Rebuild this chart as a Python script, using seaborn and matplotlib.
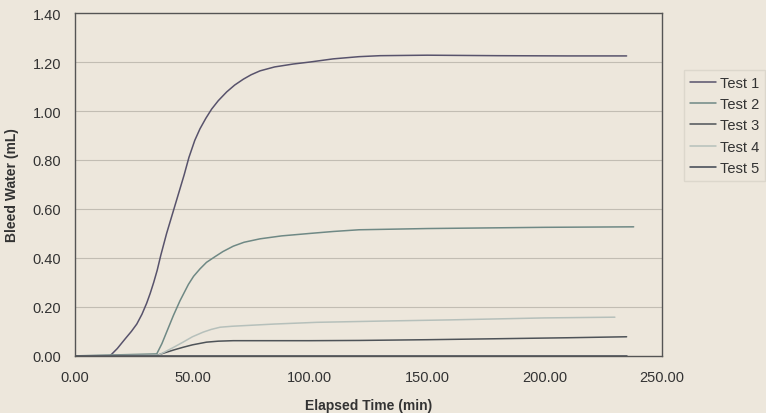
import pandas as pd
import matplotlib.pyplot as plt
import seaborn as sns

# 读图估计的数据 (时间 min, 泌水量 mL)
t1 = [0, 14.9, 18, 21.3, 24, 26.3, 28.5, 30.5, 32, 33.5, 35, 36.5, 39, 41.5, 44, 46.5, 48.5, 51, 53.2, 55.7, 58.2,
      61, 64.6, 68, 71.7, 75, 78.8, 85, 93, 100, 110, 121, 130, 150, 180, 210, 235]
v1 = [0, 0, 0.03, 0.069, 0.1, 0.13, 0.17, 0.215, 0.255, 0.3, 0.35, 0.41, 0.5, 0.58, 0.66, 0.74, 0.81, 0.88, 0.927,
      0.97, 1.008, 1.042, 1.078, 1.106, 1.13, 1.148, 1.164, 1.18, 1.192, 1.2, 1.213, 1.222, 1.226, 1.228, 1.226,
      1.225, 1.225]

t2 = [0, 34.8, 37, 39, 41.9, 44.7, 48.3, 50.5, 53.2, 56, 59.6, 63, 67.4, 72, 78.8, 88, 100, 110, 121, 150, 200, 238]
v2 = [0, 0.008, 0.05, 0.097, 0.165, 0.225, 0.292, 0.325, 0.355, 0.382, 0.405, 0.426, 0.448, 0.464, 0.478, 0.49, 0.5,
      0.508, 0.515, 0.52, 0.525, 0.527]

t3 = [0, 34.8, 38, 42, 46, 50, 56, 61, 67.4, 78.8, 100, 121, 150, 180, 210, 235]
v3 = [0, 0.002, 0.012, 0.024, 0.035, 0.045, 0.056, 0.06, 0.062, 0.062, 0.062, 0.063, 0.066, 0.07, 0.074, 0.078]

t4 = [0, 35.5, 38, 42, 46, 50, 54.6, 58, 61.8, 67, 73, 85, 103, 130, 160, 200, 230]
v4 = [0, 0.003, 0.015, 0.035, 0.056, 0.078, 0.097, 0.108, 0.117, 0.121, 0.124, 0.13, 0.137, 0.142, 0.147, 0.155, 0.158]

t5 = [0, 235]
v5 = [0, 0]

tests = ['Test 1', 'Test 2', 'Test 3', 'Test 4', 'Test 5']
colors = ['#58536c', '#6f8985', '#4e5358', '#b6c0bb', '#3e4550']

frames = []
for name, t, v in zip(tests, [t1, t2, t3, t4, t5], [v1, v2, v3, v4, v5]):
    frames.append(pd.DataFrame({'time': t, 'bleed': v, 'test': name}))
df = pd.concat(frames, ignore_index=True)

bg = '#ede7dc'
sns.set_style('white')
plt.rcParams['font.family'] = ['Liberation Sans', 'DejaVu Sans']

fig = plt.figure(figsize=(7.66, 4.14), dpi=100, facecolor=bg)
ax = fig.add_axes([0.098, 0.138, 0.766, 0.828])
ax.set_facecolor(bg)

# 网格线 (扫描件里很淡)
for y in [0.2, 0.4, 0.6, 0.8, 1.0, 1.2]:
    ax.axhline(y, color='#c2bdb3', lw=0.8, zorder=0)

sns.lineplot(data=df, x='time', y='bleed', hue='test', palette=colors,
             estimator=None, sort=False, lw=1.1, ax=ax)

ax.set_xlim(0, 250)
ax.set_ylim(0, 1.4)
ax.set_xticks([0, 50, 100, 150, 200, 250])
ax.set_yticks([0, 0.2, 0.4, 0.6, 0.8, 1.0, 1.2, 1.4])
ax.xaxis.set_major_formatter(plt.FormatStrFormatter('%.2f'))
ax.yaxis.set_major_formatter(plt.FormatStrFormatter('%.2f'))
ax.tick_params(axis='both', direction='out', length=4, width=0.8,
               color='#555555', labelsize=10.5, labelcolor='#333333', pad=6)
for s in ax.spines.values():
    s.set_color('#555555')
    s.set_linewidth(1.0)

ax.set_xlabel('Elapsed Time (min)', fontsize=10, fontweight='bold', color='#333333', labelpad=10)
ax.set_ylabel('Bleed Water (mL)', fontsize=10, fontweight='bold', color='#333333', labelpad=10)

leg = ax.legend(loc='upper left', bbox_to_anchor=(1.025, 0.855), frameon=True,
                fontsize=10.5, handlelength=1.8, handletextpad=0.3,
                labelspacing=0.5, borderpad=0.4, fancybox=False)
leg.get_frame().set_facecolor(bg)
leg.get_frame().set_edgecolor('#d8d3c8')
for txt in leg.get_texts():
    txt.set_color('#333333')

fig.savefig('out.png', dpi=100, facecolor=bg)
